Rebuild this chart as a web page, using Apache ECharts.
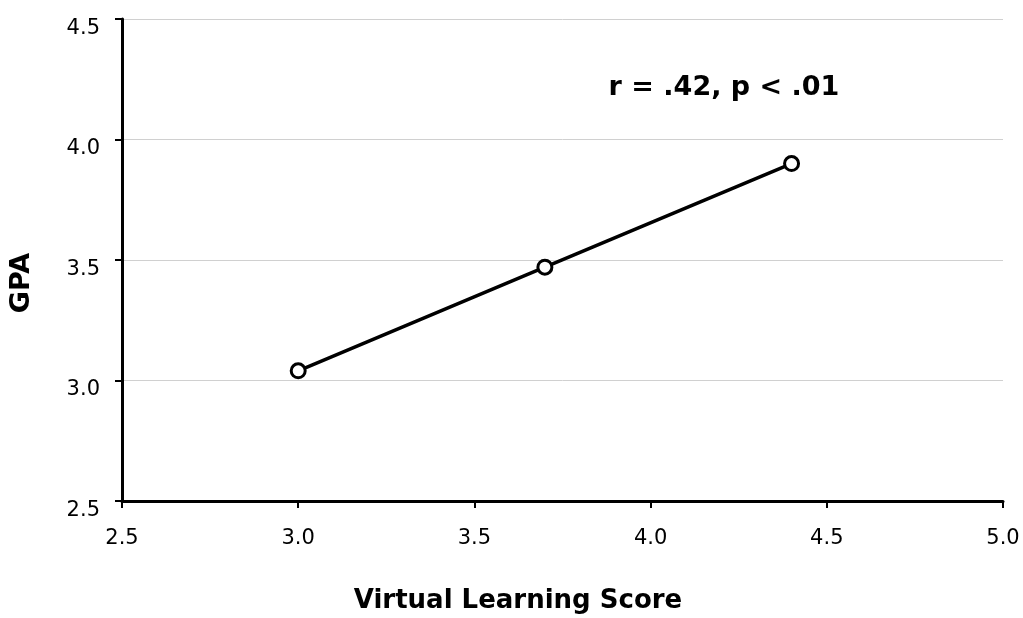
<!DOCTYPE html>
<html>
<head>
<meta charset="utf-8">
<script src="https://cdn.jsdelivr.net/npm/echarts@6/dist/echarts.min.js"></script>
<style>html,body{margin:0;padding:0;background:#fff}#c{width:1023px;height:618px}</style>
</head>
<body>
<div id="c"></div>
<script>
var xValues = [3.0, 3.7, 4.4];
var gpaValues = [3.04, 3.47, 3.90];
var xAxisTitle = 'Virtual Learning Score';
var yAxisTitle = 'GPA';
var annotation = 'r = .42, p < .01';

var chart = echarts.init(document.getElementById('c'), null, {renderer: 'canvas'});
var font = 'DejaVu Sans';
chart.setOption({
  backgroundColor: '#fff',
  animation: false,
  grid: {left: 122, right: 20, top: 19, bottom: 117},
  xAxis: {
    type: 'value', min: 2.5, max: 5.0, interval: 0.5,
    axisLine: {show: true, lineStyle: {color: '#000', width: 3}},
    axisTick: {show: true, length: 7, lineStyle: {color: '#000', width: 2}},
    axisLabel: {color: '#000', fontFamily: font, fontSize: 21, margin: 38, verticalAlign: 'middle',
      formatter: function (v) { return v.toFixed(1); }},
    splitLine: {show: false}
  },
  yAxis: {
    type: 'value', min: 2.5, max: 4.5, interval: 0.5,
    axisLine: {show: true, lineStyle: {color: '#000', width: 3}},
    axisTick: {show: true, length: 7, lineStyle: {color: '#000', width: 2}},
    axisLabel: {color: '#000', fontFamily: font, fontSize: 21, margin: 22, verticalAlign: 'top', lineHeight: 19,
      formatter: function (v) { return v.toFixed(1); }},
    splitLine: {show: true, lineStyle: {color: '#d0d0d0', width: 1}}
  },
  series: [{
    type: 'line',
    data: xValues.map(function (x, i) { return [x, gpaValues[i]]; }),
    symbol: 'circle', symbolSize: 14,
    itemStyle: {color: '#fff', borderColor: '#000', borderWidth: 3},
    lineStyle: {color: '#000', width: 3.5}
  }],
  graphic: [
    {type: 'text', x: 724, y: 88, style: {text: annotation, font: 'bold 27px "DejaVu Sans"', fill: '#000', textAlign: 'center', textVerticalAlign: 'middle'}},
    {type: 'text', x: 518, y: 601, style: {text: xAxisTitle, font: 'bold 26px "DejaVu Sans"', fill: '#000', textAlign: 'center', textVerticalAlign: 'middle'}},
    {type: 'text', x: 22, y: 283, rotation: Math.PI / 2, style: {text: yAxisTitle, font: 'bold 27px "DejaVu Sans"', fill: '#000', textAlign: 'center', textVerticalAlign: 'middle'}}
  ]
});
</script>
</body>
</html>
